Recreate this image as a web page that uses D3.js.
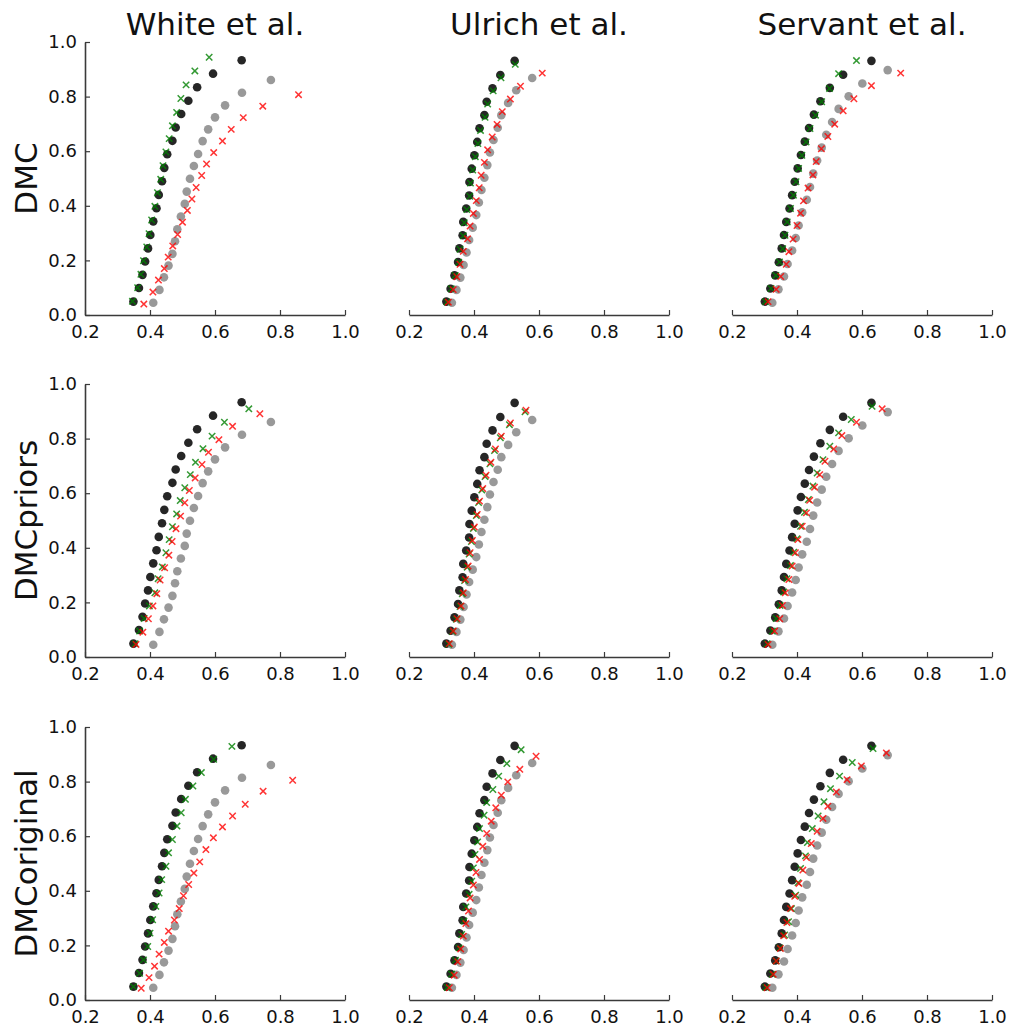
<!DOCTYPE html>
<html>
<head>
<meta charset="utf-8">
<script src="https://cdn.jsdelivr.net/npm/d3@7"></script>
<style>
  body { margin: 0; background: #fff; }
  text { font-family: "DejaVu Sans", sans-serif; fill: #111; }
</style>
</head>
<body>
<svg id="chart" width="1010" height="1032"></svg>
<script>
//Labels + ticks
const STUDIES = ['White et al.', 'Ulrich et al.', 'Servant et al.'];
const MODELS = ['DMC', 'DMCpriors', 'DMCoriginal'];
const X_TICKS = [0.2, 0.4, 0.6, 0.8, 1.0];
const Y_TICKS = [0.0, 0.2, 0.4, 0.6, 0.8, 1.0];

//Observed data (black + grey dots), same in every row of a column
const whiteDarkX = [0.349, 0.366, 0.377, 0.385, 0.394, 0.401, 0.41, 0.42, 0.427, 0.437, 0.444, 0.453, 0.469, 0.479, 0.496, 0.518, 0.545, 0.594, 0.682];
const whiteDarkY = [0.049, 0.099, 0.147, 0.196, 0.244, 0.293, 0.343, 0.391, 0.44, 0.49, 0.539, 0.589, 0.638, 0.687, 0.736, 0.785, 0.834, 0.884, 0.933];
const whiteGreyX = [0.41, 0.429, 0.443, 0.457, 0.469, 0.477, 0.484, 0.495, 0.507, 0.513, 0.523, 0.535, 0.548, 0.562, 0.579, 0.6, 0.631, 0.683, 0.772];
const whiteGreyY = [0.045, 0.092, 0.138, 0.181, 0.224, 0.27, 0.314, 0.361, 0.407, 0.452, 0.499, 0.546, 0.59, 0.637, 0.68, 0.724, 0.768, 0.814, 0.861];

const ulrichDarkX = [0.315, 0.328, 0.34, 0.351, 0.355, 0.365, 0.367, 0.376, 0.385, 0.386, 0.393, 0.401, 0.41, 0.417, 0.432, 0.439, 0.457, 0.481, 0.525];
const ulrichDarkY = [0.049, 0.096, 0.145, 0.194, 0.244, 0.292, 0.341, 0.39, 0.438, 0.487, 0.536, 0.585, 0.634, 0.684, 0.732, 0.781, 0.83, 0.879, 0.931];
const ulrichGreyX = [0.332, 0.346, 0.358, 0.368, 0.377, 0.385, 0.396, 0.407, 0.415, 0.423, 0.432, 0.441, 0.449, 0.46, 0.473, 0.484, 0.505, 0.53, 0.579];
const ulrichGreyY = [0.045, 0.092, 0.137, 0.183, 0.229, 0.275, 0.32, 0.366, 0.412, 0.458, 0.503, 0.549, 0.595, 0.641, 0.686, 0.732, 0.777, 0.823, 0.868];

const servantDarkX = [0.301, 0.318, 0.333, 0.344, 0.353, 0.36, 0.367, 0.377, 0.385, 0.393, 0.402, 0.412, 0.424, 0.437, 0.452, 0.472, 0.501, 0.542, 0.629];
const servantDarkY = [0.049, 0.097, 0.145, 0.193, 0.244, 0.293, 0.341, 0.39, 0.439, 0.488, 0.537, 0.586, 0.635, 0.685, 0.734, 0.783, 0.832, 0.88, 0.931];
const servantGreyX = [0.324, 0.343, 0.36, 0.371, 0.385, 0.396, 0.405, 0.416, 0.43, 0.44, 0.45, 0.462, 0.476, 0.49, 0.508, 0.528, 0.559, 0.601, 0.679];
const servantGreyY = [0.045, 0.094, 0.141, 0.187, 0.236, 0.282, 0.328, 0.376, 0.422, 0.469, 0.518, 0.566, 0.613, 0.66, 0.707, 0.755, 0.801, 0.848, 0.897];

//Model fits (green + red crosses), one pair per panel
const dmcWhiteGreenX = [0.346, 0.362, 0.372, 0.38, 0.39, 0.397, 0.405, 0.415, 0.423, 0.433, 0.44, 0.449, 0.459, 0.469, 0.482, 0.495, 0.511, 0.538, 0.582];
const dmcWhiteGreenY = [0.05, 0.1, 0.149, 0.199, 0.249, 0.298, 0.348, 0.398, 0.448, 0.497, 0.547, 0.597, 0.646, 0.693, 0.742, 0.793, 0.843, 0.894, 0.944];
const dmcWhiteRedX = [0.381, 0.409, 0.426, 0.444, 0.456, 0.47, 0.485, 0.5, 0.515, 0.529, 0.542, 0.559, 0.574, 0.596, 0.623, 0.65, 0.687, 0.747, 0.857];
const dmcWhiteRedY = [0.04, 0.084, 0.128, 0.17, 0.212, 0.253, 0.295, 0.34, 0.383, 0.425, 0.467, 0.511, 0.553, 0.595, 0.637, 0.68, 0.723, 0.765, 0.807];
const dmcUlrichGreenX = [0.317, 0.33, 0.342, 0.353, 0.357, 0.367, 0.37, 0.378, 0.387, 0.389, 0.396, 0.404, 0.412, 0.42, 0.434, 0.442, 0.459, 0.483, 0.527];
const dmcUlrichGreenY = [0.048, 0.096, 0.145, 0.193, 0.241, 0.29, 0.338, 0.386, 0.435, 0.483, 0.531, 0.58, 0.628, 0.676, 0.724, 0.773, 0.821, 0.869, 0.918];
const dmcUlrichRedX = [0.321, 0.336, 0.347, 0.357, 0.367, 0.38, 0.388, 0.398, 0.407, 0.416, 0.422, 0.432, 0.442, 0.456, 0.471, 0.487, 0.512, 0.543, 0.61];
const dmcUlrichRedY = [0.047, 0.093, 0.14, 0.186, 0.233, 0.279, 0.326, 0.372, 0.419, 0.466, 0.512, 0.559, 0.605, 0.652, 0.698, 0.745, 0.791, 0.838, 0.886];
const dmcServantGreenX = [0.303, 0.32, 0.335, 0.346, 0.356, 0.363, 0.37, 0.38, 0.389, 0.397, 0.405, 0.415, 0.428, 0.44, 0.457, 0.476, 0.5, 0.528, 0.583];
const dmcServantGreenY = [0.049, 0.097, 0.145, 0.194, 0.243, 0.292, 0.341, 0.39, 0.439, 0.488, 0.537, 0.585, 0.634, 0.683, 0.732, 0.781, 0.83, 0.884, 0.932];
const dmcServantRedX = [0.311, 0.336, 0.35, 0.367, 0.375, 0.388, 0.4, 0.411, 0.42, 0.434, 0.449, 0.459, 0.475, 0.495, 0.516, 0.542, 0.575, 0.629, 0.719];
const dmcServantRedY = [0.049, 0.094, 0.141, 0.186, 0.232, 0.278, 0.328, 0.373, 0.418, 0.465, 0.513, 0.562, 0.609, 0.654, 0.699, 0.748, 0.792, 0.84, 0.886];

const priorsWhiteGreenX = [0.354, 0.368, 0.382, 0.398, 0.415, 0.425, 0.438, 0.449, 0.459, 0.469, 0.482, 0.493, 0.507, 0.524, 0.54, 0.563, 0.591, 0.629, 0.704];
const priorsWhiteGreenY = [0.049, 0.095, 0.141, 0.187, 0.235, 0.287, 0.33, 0.382, 0.43, 0.477, 0.524, 0.573, 0.62, 0.668, 0.713, 0.763, 0.809, 0.86, 0.909];
const priorsWhiteRedX = [0.357, 0.378, 0.395, 0.409, 0.421, 0.431, 0.445, 0.458, 0.468, 0.48, 0.494, 0.507, 0.521, 0.539, 0.56, 0.58, 0.612, 0.654, 0.738];
const priorsWhiteRedY = [0.046, 0.091, 0.14, 0.187, 0.232, 0.282, 0.327, 0.373, 0.423, 0.47, 0.516, 0.565, 0.61, 0.656, 0.705, 0.75, 0.796, 0.845, 0.891];
const priorsUlrichGreenX = [0.322, 0.334, 0.346, 0.357, 0.364, 0.371, 0.379, 0.385, 0.392, 0.398, 0.407, 0.414, 0.424, 0.434, 0.449, 0.463, 0.481, 0.509, 0.557];
const priorsUlrichGreenY = [0.047, 0.093, 0.138, 0.185, 0.232, 0.28, 0.329, 0.377, 0.423, 0.471, 0.518, 0.566, 0.612, 0.661, 0.708, 0.756, 0.803, 0.851, 0.898];
const priorsUlrichRedX = [0.324, 0.336, 0.348, 0.36, 0.367, 0.374, 0.382, 0.388, 0.395, 0.401, 0.41, 0.417, 0.427, 0.437, 0.452, 0.466, 0.484, 0.512, 0.56];
const priorsUlrichRedY = [0.049, 0.095, 0.14, 0.187, 0.235, 0.284, 0.333, 0.382, 0.427, 0.476, 0.522, 0.571, 0.617, 0.666, 0.713, 0.762, 0.809, 0.857, 0.904];
const priorsServantGreenX = [0.308, 0.324, 0.336, 0.348, 0.359, 0.369, 0.38, 0.39, 0.4, 0.411, 0.423, 0.435, 0.449, 0.462, 0.48, 0.501, 0.528, 0.567, 0.631];
const priorsServantGreenY = [0.049, 0.095, 0.141, 0.189, 0.238, 0.287, 0.335, 0.384, 0.433, 0.479, 0.53, 0.577, 0.626, 0.674, 0.723, 0.772, 0.821, 0.87, 0.918];
const priorsServantRedX = [0.311, 0.331, 0.347, 0.355, 0.364, 0.375, 0.385, 0.395, 0.403, 0.416, 0.429, 0.439, 0.454, 0.47, 0.486, 0.513, 0.538, 0.583, 0.662];
const priorsServantRedY = [0.046, 0.095, 0.14, 0.189, 0.235, 0.284, 0.333, 0.382, 0.43, 0.479, 0.528, 0.574, 0.622, 0.668, 0.717, 0.762, 0.811, 0.86, 0.909];

const origWhiteGreenX = [0.349, 0.368, 0.38, 0.393, 0.4, 0.408, 0.418, 0.428, 0.436, 0.449, 0.457, 0.469, 0.483, 0.496, 0.509, 0.532, 0.558, 0.596, 0.652];
const origWhiteGreenY = [0.049, 0.098, 0.147, 0.196, 0.245, 0.294, 0.343, 0.392, 0.441, 0.49, 0.539, 0.588, 0.637, 0.686, 0.735, 0.784, 0.833, 0.882, 0.929];
const origWhiteRedX = [0.373, 0.397, 0.414, 0.428, 0.444, 0.457, 0.475, 0.49, 0.503, 0.519, 0.535, 0.553, 0.572, 0.595, 0.623, 0.654, 0.693, 0.748, 0.839];
const origWhiteRedY = [0.043, 0.082, 0.124, 0.168, 0.211, 0.252, 0.293, 0.335, 0.382, 0.423, 0.465, 0.506, 0.551, 0.594, 0.634, 0.674, 0.717, 0.765, 0.805];
const origUlrichGreenX = [0.318, 0.331, 0.343, 0.354, 0.362, 0.369, 0.375, 0.385, 0.393, 0.398, 0.403, 0.411, 0.417, 0.431, 0.439, 0.458, 0.476, 0.501, 0.545];
const origUlrichGreenY = [0.046, 0.095, 0.146, 0.191, 0.24, 0.289, 0.341, 0.387, 0.435, 0.484, 0.533, 0.579, 0.628, 0.677, 0.723, 0.771, 0.82, 0.866, 0.917];
const origUlrichRedX = [0.324, 0.339, 0.35, 0.359, 0.367, 0.375, 0.383, 0.388, 0.398, 0.406, 0.417, 0.427, 0.439, 0.453, 0.467, 0.484, 0.504, 0.541, 0.591];
const origUlrichRedY = [0.045, 0.091, 0.14, 0.187, 0.234, 0.28, 0.326, 0.374, 0.421, 0.467, 0.515, 0.563, 0.61, 0.655, 0.704, 0.75, 0.799, 0.845, 0.893];
const origServantGreenX = [0.304, 0.324, 0.336, 0.347, 0.362, 0.374, 0.383, 0.396, 0.403, 0.411, 0.426, 0.432, 0.447, 0.465, 0.483, 0.503, 0.531, 0.57, 0.634];
const origServantGreenY = [0.046, 0.094, 0.143, 0.191, 0.238, 0.287, 0.335, 0.384, 0.43, 0.482, 0.528, 0.577, 0.628, 0.674, 0.726, 0.774, 0.82, 0.87, 0.921];
const origServantRedX = [0.308, 0.327, 0.336, 0.349, 0.359, 0.369, 0.38, 0.393, 0.406, 0.418, 0.429, 0.444, 0.462, 0.48, 0.495, 0.521, 0.554, 0.598, 0.675];
const origServantRedY = [0.045, 0.094, 0.143, 0.189, 0.235, 0.284, 0.335, 0.38, 0.427, 0.476, 0.522, 0.573, 0.618, 0.665, 0.71, 0.762, 0.807, 0.857, 0.905];

// observed per column, fits per [row][col]
const OBS = [
  { dark: [whiteDarkX, whiteDarkY], grey: [whiteGreyX, whiteGreyY] },
  { dark: [ulrichDarkX, ulrichDarkY], grey: [ulrichGreyX, ulrichGreyY] },
  { dark: [servantDarkX, servantDarkY], grey: [servantGreyX, servantGreyY] },
];
const FITS = [
  [
    { green: [dmcWhiteGreenX, dmcWhiteGreenY], red: [dmcWhiteRedX, dmcWhiteRedY] },
    { green: [dmcUlrichGreenX, dmcUlrichGreenY], red: [dmcUlrichRedX, dmcUlrichRedY] },
    { green: [dmcServantGreenX, dmcServantGreenY], red: [dmcServantRedX, dmcServantRedY] },
  ],
  [
    { green: [priorsWhiteGreenX, priorsWhiteGreenY], red: [priorsWhiteRedX, priorsWhiteRedY] },
    { green: [priorsUlrichGreenX, priorsUlrichGreenY], red: [priorsUlrichRedX, priorsUlrichRedY] },
    { green: [priorsServantGreenX, priorsServantGreenY], red: [priorsServantRedX, priorsServantRedY] },
  ],
  [
    { green: [origWhiteGreenX, origWhiteGreenY], red: [origWhiteRedX, origWhiteRedY] },
    { green: [origUlrichGreenX, origUlrichGreenY], red: [origUlrichRedX, origUlrichRedY] },
    { green: [origServantGreenX, origServantGreenY], red: [origServantRedX, origServantRedY] },
  ],
];

//Layout
const COL_LEFT = [85, 409, 732];
const ROW_TOP = [42, 384, 727];
const PW = 260, PH = 273;
const TICK = 5;
const SPINE = '#3a3a3a';

const svg = d3.select('#chart');

const drawDots = (g, [xs, ys], x, y, color, alpha) => {
  g.append('g').selectAll('circle')
    .data(d3.zip(xs, ys))
    .join('circle')
    .attr('cx', d => x(d[0]))
    .attr('cy', d => y(d[1]))
    .attr('r', 4.3)
    .attr('fill', color)
    .attr('fill-opacity', alpha);
};

const drawCrosses = (g, [xs, ys], x, y, color, alpha) => {
  const s = 3.2;
  g.append('g').selectAll('path')
    .data(d3.zip(xs, ys))
    .join('path')
    .attr('d', d => {
      const px = x(d[0]), py = y(d[1]);
      return `M${px - s},${py - s}L${px + s},${py + s}M${px - s},${py + s}L${px + s},${py - s}`;
    })
    .attr('stroke', color)
    .attr('stroke-opacity', alpha)
    .attr('stroke-width', 1.5)
    .attr('fill', 'none');
};

const styleAxis = (ax) => {
  ax.select('.domain').attr('stroke', SPINE).attr('stroke-width', 1.6);
  ax.selectAll('.tick line').attr('stroke', SPINE).attr('stroke-width', 1.2);
  ax.selectAll('.tick text')
    .attr('font-family', '"DejaVu Sans", sans-serif')
    .attr('font-size', 18)
    .attr('fill', '#1a1a1a');
  ax.attr('font-family', null).attr('font-size', null);
};

MODELS.forEach((model, r) => {
  STUDIES.forEach((study, c) => {
    const x = d3.scaleLinear().domain([0.2, 1.0]).range([COL_LEFT[c], COL_LEFT[c] + PW]);
    const y = d3.scaleLinear().domain([0, 1.0]).range([ROW_TOP[r] + PH, ROW_TOP[r]]);
    const g = svg.append('g').attr('class', `panel r${r} c${c}`);

    // bottom spine + inward ticks
    const xa = g.append('g')
      .attr('transform', `translate(0,${ROW_TOP[r] + PH})`)
      .call(d3.axisBottom(x).tickValues(X_TICKS).tickFormat(d3.format('.1f'))
        .tickSizeInner(-TICK).tickSizeOuter(0).tickPadding(10));
    styleAxis(xa);

    // left spine only on the first column
    if (c === 0) {
      const ya = g.append('g')
        .attr('transform', `translate(${COL_LEFT[c]},0)`)
        .call(d3.axisLeft(y).tickValues(Y_TICKS).tickFormat(d3.format('.1f'))
          .tickSizeInner(-TICK).tickSizeOuter(0).tickPadding(8));
      styleAxis(ya);

      g.append('text')
        .attr('transform', `translate(26,${ROW_TOP[r] + PH / 2}) rotate(-90)`)
        .attr('text-anchor', 'middle')
        .attr('dominant-baseline', 'central')
        .attr('font-size', 31)
        .text(model);
    }

    if (r === 0) {
      g.append('text')
        .attr('x', COL_LEFT[c] + PW / 2)
        .attr('y', 35)
        .attr('text-anchor', 'middle')
        .attr('font-size', 31)
        .text(study);
    }

    const marks = g.append('g');
    drawDots(marks, OBS[c].dark, x, y, '#000000', 0.85);
    drawDots(marks, OBS[c].grey, x, y, '#808080', 0.8);
    drawCrosses(marks, FITS[r][c].green, x, y, '#008000', 0.8);
    drawCrosses(marks, FITS[r][c].red, x, y, '#ff0000', 0.8);
  });
});
</script>
</body>
</html>
